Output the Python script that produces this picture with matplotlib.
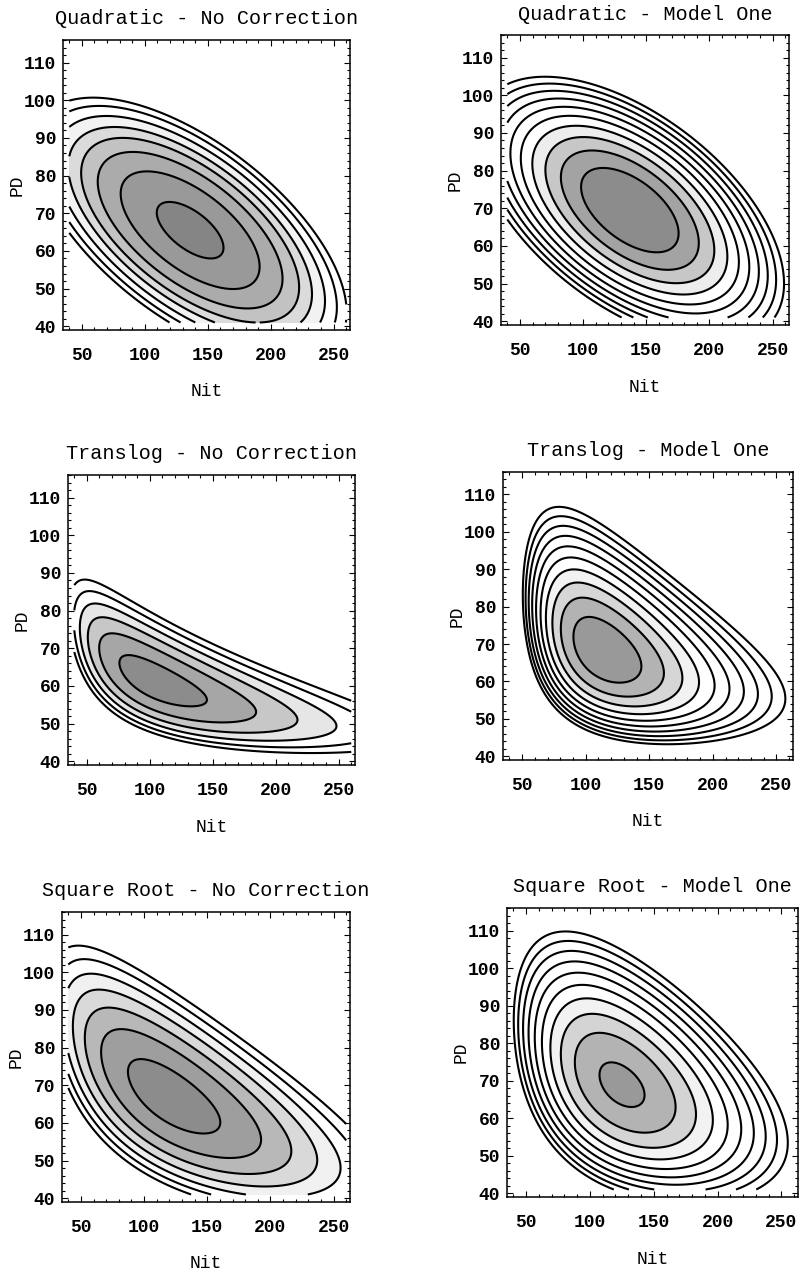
import numpy as np
import matplotlib.pyplot as plt
from matplotlib.ticker import MultipleLocator

plt.rcParams['font.family'] = ['Liberation Mono', 'DejaVu Sans Mono']

# panel titles and response form used for each surface
titles = ['Quadratic - No Correction', 'Quadratic - Model One',
          'Translog - No Correction', 'Translog - Model One',
          'Square Root - No Correction', 'Square Root - Model One']
forms = ['quadratic', 'quadratic', 'translog', 'translog', 'sqrt', 'sqrt']

# optimum (centre of the contours)
centre_nit = [136, 137, 105, 114, 121, 124.5]
centre_pd = [65.5, 69.5, 61, 67.9, 66.7, 68.8]
# spread of the contours around the optimum (data units) and tilt
spread_nit = [48.4, 38.6, 48.3, 29.6, 51.7, 35.3]
spread_pd = [13.7, 11.2, 9.6, 9.8, 13.97, 11.9]
corr = [-0.62, -0.55, -0.72, -0.45, -0.68, -0.45]

# contour values (distance from the optimum) drawn in each panel
levels_quad_nc = [0.3, 1.3, 2.3, 3.2, 4.0, 4.9, 5.8, 6.6]
levels_quad_m1 = [1, 2, 3, 4, 5, 6, 7, 8, 9, 10]
levels_tl_nc = [0.5, 1.5, 2.5, 3.5, 4.5, 5.5]
levels_tl_m1 = [0.8, 1.8, 2.8, 3.8, 4.8, 5.8, 6.8, 7.8, 8.8, 9.8]
levels_sr_nc = [0.5, 1.5, 2.5, 3.5, 4.5, 5.5, 6.5]
levels_sr_m1 = [0.25, 1.25, 2.25, 3.25, 4.25, 5.25, 6.25, 7.25, 8.25, 9.25]
panel_levels = [levels_quad_nc, levels_quad_m1, levels_tl_nc,
                levels_tl_m1, levels_sr_nc, levels_sr_m1]

# gray of each band, from the optimum outwards (rest is white)
grays_quad_nc = [0.52, 0.6, 0.67, 0.76, 0.86, 0.95]
grays_quad_m1 = [0.55, 0.64, 0.78, 0.93]
grays_tl_nc = [0.55, 0.65, 0.78, 0.9]
grays_tl_m1 = [0.6, 0.7, 0.84, 0.95]
grays_sr_nc = [0.55, 0.62, 0.72, 0.85, 0.94]
grays_sr_m1 = [0.6, 0.7, 0.83, 0.95]
panel_grays = [grays_quad_nc, grays_quad_m1, grays_tl_nc,
               grays_tl_m1, grays_sr_nc, grays_sr_m1]

nit_ticks = [50, 100, 150, 200, 250]
pd_ticks = [40, 50, 60, 70, 80, 90, 100, 110]

# axes boxes in pixels: left, right, top, bottom
boxes = [(63, 350, 40, 330), (501, 789, 35, 325),
         (68, 355, 475, 765), (503, 793, 472, 760),
         (62, 350, 912, 1202), (507, 798, 908, 1197)]

W, H = 801, 1272


def g(form, v):
    if form == 'translog':
        return np.log(v)
    if form == 'sqrt':
        return np.sqrt(v)
    return v


def dg(form, v):
    if form == 'translog':
        return 1.0 / v
    if form == 'sqrt':
        return 0.5 / np.sqrt(v)
    return 1.0


nit = np.linspace(40, 260, 400)
pd_ = np.linspace(41, 115, 400)
N, P = np.meshgrid(nit, pd_)

fig = plt.figure(figsize=(W / 100, H / 100), dpi=100)

for i in range(6):
    l, r, t, b = boxes[i]
    ax = fig.add_axes([l / W, 1 - b / H, (r - l) / W, (b - t) / H])
    f = forms[i]
    du = (g(f, N) - g(f, centre_nit[i])) / (dg(f, centre_nit[i]) * spread_nit[i])
    dv = (g(f, P) - g(f, centre_pd[i])) / (dg(f, centre_pd[i]) * spread_pd[i])
    rho = corr[i]
    Z = (du ** 2 - 2 * rho * du * dv + dv ** 2) / (1 - rho ** 2)

    lev = panel_levels[i]
    grays = panel_grays[i]
    bounds = [0] + lev + [Z.max() + 1]
    cols = [str(grays[k]) if k < len(grays) else 'white' for k in range(len(bounds) - 1)]
    ax.contourf(N, P, Z, levels=bounds, colors=cols)
    ax.contour(N, P, Z, levels=lev, colors='black', linewidths=1.5)

    ax.set_xlim(35, 263)
    ax.set_ylim(39, 116)
    ax.set_xticks(nit_ticks)
    ax.set_yticks(pd_ticks)
    ax.xaxis.set_minor_locator(MultipleLocator(10))
    ax.yaxis.set_minor_locator(MultipleLocator(2))
    ax.tick_params(which='both', direction='in', top=True, right=True, width=0.8)
    ax.tick_params(which='major', length=4, labelsize=13)
    ax.tick_params(which='minor', length=2)
    ax.tick_params(axis='x', pad=12)
    ax.tick_params(axis='y', pad=5)
    for lab in ax.get_xticklabels() + ax.get_yticklabels():
        lab.set_fontweight('bold')
    for s in ax.spines.values():
        s.set_linewidth(1.1)

    h = b - t
    w = r - l
    ax.text(0.5, 1 + 21 / h, titles[i], transform=ax.transAxes,
            ha='center', va='center', fontsize=14.5)
    ax.text(0.5, -62 / h, 'Nit', transform=ax.transAxes,
            ha='center', va='center', fontsize=13)
    ax.text(-46 / w, 0.5, 'PD', transform=ax.transAxes, rotation=90,
            ha='center', va='center', fontsize=13)

fig.savefig('out.png', dpi=100)
